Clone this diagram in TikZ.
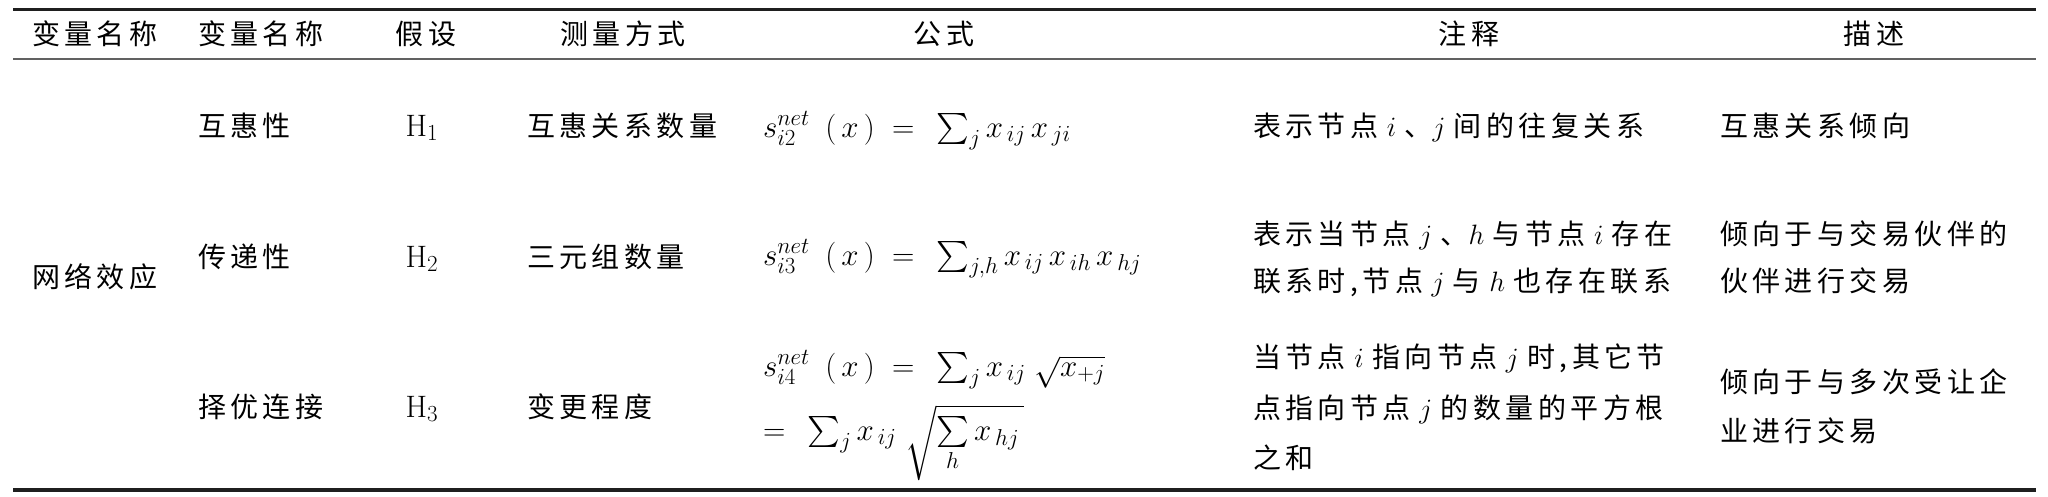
\RequirePackage{fix-cm}
\documentclass[tikz,border=0pt]{standalone}
\usepackage{amsmath}
\usepackage{fontspec}
\DeclareFontShape{OMX}{cmex}{m}{n}{<->cmex10}{}
\DeclareMathSizes{28}{28}{21}{16}
\DeclareMathSizes{31}{31}{23}{18}
\newfontfamily\cjk[LetterSpace=16]{Noto Sans CJK SC}
\newcommand\gp{\hspace{0.3em}}
\tikzset{
  cell/.style={inner sep=0pt, outer sep=0pt, font=\cjk\fontsize{28}{34}\selectfont, anchor=base west},
  cellc/.style={cell, anchor=base},
  mcell/.style={cell, font=\cjk\fontsize{31}{36}\selectfont},
  mcellc/.style={mcell, anchor=base},
  rulethick/.style={line width=3.2pt, draw=black!88},
  rulethin/.style={line width=1.6pt, draw=black!62}
}
\begin{document}
\begin{tikzpicture}[x=1pt,y=-1pt]
\useasboundingbox (0,0) rectangle (2048,496);
% rules
\draw[rulethick] (13,9.5) -- (2036,9.5);
\draw[rulethin] (13,59) -- (2036,59);
\draw[rulethick] (13,490) -- (2036,490);
% header
\node[cell]  (h1) at (32,44) {变量名称};
\node[cell]  (h2) at (198,44) {变量名称};
\node[cellc] (h3) at (426,44) {假设};
\node[cellc] (h4) at (623,44) {测量方式};
\node[cellc] (h5) at (944,44) {公式};
\node[cellc] (h6) at (1469,44) {注释};
\node[cellc] (h7) at (1874,44) {描述};
% row 1
\node[cell]  (r1b) at (198,136) {互惠性};
\node[mcellc] (r1c) at (422,136) {$\mathrm{H}_1$};
\node[cell]  (r1d) at (527,136) {互惠关系数量};
\node[mcell] (r1e) at (763,137) {$s^{net}_{i2}\hspace{0.5em}(\,x\,)\;=\;\,\sum\nolimits_j x_{\,ij}\,x_{\,ji}$};
\node[cell]  (r1f) at (1253,136) {表示节点\gp{}$i$\gp{}、$j$\gp{}间的往复关系};
\node[cell]  (r1g) at (1720,136) {互惠关系倾向};
% row 2
\node[cell]  (r2a) at (32,287) {网络效应};
\node[cell]  (r2b) at (198,267) {传递性};
\node[mcellc] (r2c) at (422,267) {$\mathrm{H}_2$};
\node[cell]  (r2d) at (527,267) {三元组数量};
\node[mcell] (r2e) at (763,265) {$s^{net}_{i3}\hspace{0.5em}(\,x\,)\;=\;\,\sum\nolimits_{j,h} x_{\,ij}\,x_{\,ih}\,x_{\,hj}$};
\node[cell]  (r2f1) at (1253,244) {表示当节点\gp{}$j$\gp{}、$h$\gp{}与节点\gp{}$i$\gp{}存在};
\node[cell]  (r2f2) at (1253,291) {联系时,节点\gp{}$j$\gp{}与\gp{}$h$\gp{}也存在联系};
\node[cell]  (r2g1) at (1720,244) {倾向于与交易伙伴的};
\node[cell]  (r2g2) at (1720,291) {伙伴进行交易};
% row 3
\node[cell]  (r3b) at (198,417) {择优连接};
\node[mcellc] (r3c) at (422,417) {$\mathrm{H}_3$};
\node[cell]  (r3d) at (527,417) {变更程度};
\node[mcell] (r3e1) at (763,376) {$s^{net}_{i4}\hspace{0.5em}(\,x\,)\;=\;\,\sum\nolimits_j x_{\,ij}\;\sqrt{x_{+j}}$};
\node[mcell] (r3e2) at (763,440) {$=\;\,\sum\nolimits_j x_{\,ij}\;\sqrt{\sum\limits_h x_{\,hj}\,}$};
\node[cell]  (r3f1) at (1253,367) {当节点\gp{}$i$\gp{}指向节点\gp{}$j$\gp{}时,其它节};
\node[cell]  (r3f2) at (1253,418) {点指向节点\gp{}$j$\gp{}的数量的平方根};
\node[cell]  (r3f3) at (1253,468) {之和};
\node[cell]  (r3g1) at (1720,392) {倾向于与多次受让企};
\node[cell]  (r3g2) at (1720,441) {业进行交易};
\end{tikzpicture}
\end{document}
